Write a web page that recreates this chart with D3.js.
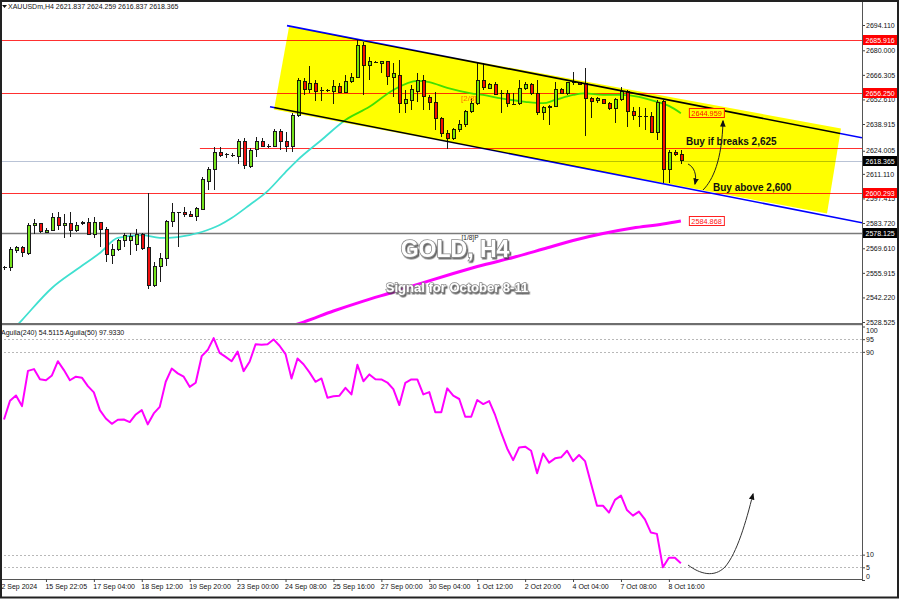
<!DOCTYPE html>
<html><head><meta charset="utf-8">
<script src="https://cdn.jsdelivr.net/npm/d3@7"></script>
<style>body{margin:0;background:#fff}svg{display:block}text{font-family:"Liberation Sans",Arial,sans-serif}</style>
</head><body><svg id="c" width="900" height="600"></svg>
<script>
// ---------- DATA ----------
const opens=[2558.6,2558.8,2568.3,2570.2,2566.8,2582.1,2583.2,2578.7,2579.8,2586.9,2582.4,2583.5,2579.8,2583.2,2583.9,2577.4,2584.1,2580.2,2565.5,2568.7,2574.2,2574.2,2571.8,2577.4,2570.2,2548.8,2559.4,2564.0,2584.5,2589.1,2589.5,2588.7,2587.3,2591.5,2607.1,2613.6,2622.9,2621.4,2621.6,2620.7,2629.1,2615.1,2624.8,2629.4,2626.6,2626.3,2634.6,2629.1,2626.3,2643.4,2662.5,2657.9,2661.6,2657.3,2657.9,2656.9,2659.7,2656.6,2662.5,2664.9,2682.9,2671.8,2673.1,2672.4,2673.7,2664.9,2665.9,2650.1,2651.9,2657.0,2663.4,2653.6,2650.8,2642.1,2633.7,2630.9,2635.9,2638.4,2645.8,2650.4,2663.4,2658.8,2660.7,2656.0,2656.0,2650.1,2650.1,2658.8,2660.7,2656.0,2645.2,2648.2,2648.9,2658.2,2656.0,2661.9,2661.9,2661.6,2653.2,2651.9,2652.6,2650.4,2647.6,2652.3,2656.9,2645.8,2643.4,2643.4,2643.0,2634.1,2651.3,2613.3,2622.9,2621.84];
const highs=[2559.7,2570.5,2570.9,2570.9,2583.5,2585.8,2583.5,2580.7,2589.5,2590.0,2588.7,2590.0,2584.5,2584.8,2586.3,2586.9,2584.5,2581.3,2572.0,2574.6,2578.0,2578.0,2580.2,2578.0,2600.6,2562.2,2566.8,2585.4,2595.1,2590.0,2592.8,2590.6,2592.8,2609.6,2615.1,2626.3,2626.3,2622.6,2622.6,2630.5,2631.0,2625.3,2631.5,2631.0,2628.0,2635.9,2635.9,2634.6,2644.8,2664.4,2664.4,2671.2,2663.4,2659.7,2658.2,2663.4,2661.6,2666.2,2667.2,2685.7,2684.8,2676.4,2674.2,2674.2,2674.2,2672.7,2674.6,2657.9,2660.7,2667.2,2666.2,2655.1,2656.9,2643.0,2635.6,2636.5,2641.1,2646.7,2653.2,2672.7,2672.7,2661.6,2662.5,2657.9,2657.9,2656.0,2663.4,2662.5,2661.6,2663.4,2648.9,2649.5,2662.5,2658.8,2662.5,2668.1,2662.5,2669.9,2654.2,2654.2,2652.7,2651.4,2653.2,2659.7,2657.9,2648.6,2648.6,2647.7,2645.8,2652.3,2652.3,2624.4,2624.4,2624.26];
const lows=[2557.5,2557.0,2566.8,2564.9,2565.9,2577.6,2578.0,2578.0,2579.4,2579.8,2575.2,2576.1,2578.9,2582.4,2577.0,2575.2,2570.5,2562.2,2560.7,2568.1,2570.5,2565.9,2568.3,2568.7,2546.9,2548.2,2551.0,2559.7,2581.3,2570.2,2586.9,2586.9,2585.0,2591.0,2602.1,2602.1,2620.7,2619.8,2620.3,2616.6,2613.6,2614.2,2620.7,2625.9,2625.5,2625.9,2624.4,2623.5,2623.5,2642.6,2655.1,2656.0,2651.9,2651.9,2656.9,2650.1,2656.0,2656.0,2661.6,2664.5,2655.1,2663.4,2672.7,2667.2,2660.7,2654.2,2644.9,2644.9,2646.7,2651.4,2646.7,2646.7,2635.6,2631.9,2624.8,2630.0,2634.6,2637.4,2645.2,2649.5,2657.9,2658.2,2655.1,2644.9,2648.2,2649.5,2649.5,2657.9,2655.1,2643.9,2641.1,2638.4,2648.6,2655.6,2655.1,2660.7,2660.7,2632.2,2642.1,2650.8,2650.1,2646.7,2639.6,2651.9,2637.0,2641.1,2637.4,2635.6,2633.7,2630.0,2605.9,2605.9,2620.9,2616.84];
const closes=[2559.0,2568.7,2570.2,2567.4,2582.6,2583.2,2578.9,2579.8,2586.9,2582.6,2583.5,2579.8,2582.6,2583.9,2577.4,2584.1,2580.2,2565.9,2568.7,2574.2,2576.5,2576.1,2577.4,2569.6,2548.8,2559.7,2564.0,2584.8,2589.5,2589.7,2588.2,2587.3,2591.7,2607.7,2613.6,2622.9,2621.1,2622.0,2621.1,2629.1,2615.5,2624.4,2629.1,2626.3,2626.8,2634.6,2629.1,2626.3,2643.9,2663.1,2658.2,2661.6,2656.9,2657.9,2658.0,2659.7,2656.4,2662.5,2664.7,2682.9,2671.8,2673.7,2673.7,2673.7,2665.3,2666.8,2650.1,2652.3,2658.2,2663.4,2654.2,2650.8,2642.1,2633.7,2630.9,2635.9,2638.4,2645.8,2650.1,2663.4,2659.4,2661.0,2655.4,2656.2,2650.1,2650.3,2658.8,2660.7,2656.0,2645.2,2648.2,2648.9,2658.2,2656.0,2661.9,2662.1,2661.2,2653.2,2651.7,2653.2,2650.4,2647.6,2652.3,2656.9,2645.8,2643.9,2643.3,2643.5,2634.1,2650.8,2613.3,2622.9,2621.8,2618.37];
const aguila=[63.3,70.7,72.8,68.6,82.5,83.2,79.2,78.8,80.7,86.3,82.8,78.8,80.2,79.8,76.5,74.0,67.0,63.7,61.6,63.2,63.3,62.3,65.3,67.0,61.4,65.7,68.3,78.2,83.4,81.5,80.2,76.2,77.8,88.3,90.7,95.4,89.6,88.0,86.3,90.1,82.4,86.1,93.0,92.8,93.0,94.9,92.4,89.1,79.5,87.4,85.1,81.9,78.2,79.5,71.9,72.5,72.7,75.8,73.2,84.9,78.4,81.1,79.2,79.1,77.9,75.3,69.0,77.8,79.1,79.1,73.2,74.1,66.2,66.2,75.6,72.7,71.4,64.4,64.4,71.0,69.4,70.6,65.0,58.1,51.9,47.3,52.3,52.6,51.0,42.1,49.9,46.3,48.0,48.4,51.0,46.9,49.3,46.9,38.1,29.3,29.3,26.6,31.6,33.3,27.6,25.4,27.0,23.9,18.7,18.2,5.0,8.8,8.8,6.6];
const maIndex=[2,3,8,12,16,19,23,26,29,33,36,38,41,44,47,49,53,57,61,65,69,71,74,78,80,83,87,90,92,95,97,100,103,106,109,111,113];
const maValue=[2526.0,2529.6,2547.5,2557.5,2567.0,2575.4,2577.0,2575.4,2575.9,2578.7,2582.6,2586.5,2593.8,2601.5,2612.1,2618.8,2630.0,2641.1,2648.5,2657.9,2663.0,2662.3,2659.0,2656.0,2655.1,2653.2,2651.3,2650.5,2652.3,2655.1,2656.0,2655.1,2655.1,2654.1,2651.3,2649.0,2644.959];
const ma200Index=[48,50,55,60,65,70,75,80,85,90,95,100,105,110,113];
const ma200Value=[2526.3,2528.5,2534.65,2540.2,2545.25,2550.5,2555.55,2560.3,2564.5,2569.2,2573.95,2577.85,2580.9,2583.15,2584.868];
const priceTicks=[2694.110,2680.000,2666.305,2652.610,2638.915,2624.005,2611.110,2597.415,2583.720,2569.610,2555.915,2542.220,2528.525];
const aguilaTicks=[100,95,90,10,5,0];
const aguilaLevels=[95,90,10,5];
const timeIndex=[-1,7,15,23,31,39,47,55,63,71,79,87,95,103,111];
const timeLabels=["12 Sep 2024","15 Sep 22:05","17 Sep 04:00","18 Sep 12:00","19 Sep 20:00","23 Sep 00:00","24 Sep 08:00","25 Sep 16:00","27 Sep 00:00","30 Sep 04:00","1 Oct 12:00","2 Oct 20:00","4 Oct 04:00","7 Oct 08:00","8 Oct 16:00"];
const levelValue=[2685.916,2656.250,2625.6,2618.365,2600.293,2578.125];
const levelFrom=[-0.67,-0.67,32.7,-0.67,-0.67,-0.67];
const levelKind=["res","res","res","bid","res","piv"];
const levelLabel=["2685.916","2656.250","","2618.365","2600.293","2578.125"];
const channelUpper=[[47.25,2693.78],[143.24,2631.28]];
const channelLower=[[44.41,2648.56],[143.24,2583.88]];
const boxCorners=[[47.58,2693.0],[139.73,2636.4],[137.4,2589.01],[45.08,2647.0]];

// ---------- LAYOUT ----------
const W=900,H=600,PR=862,MB=323,IT=326,IB=579;
const x=d3.scaleLinear().domain([-0.67,143.24]).range([0,PR]);
const y=d3.scaleLinear().domain([2528.525,2694.11]).range([322,25]);
const yi=d3.scaleLinear().domain([0,100]).range([580,326.5]);
const svg=d3.select('#c');
svg.append('rect').attr('width',W).attr('height',H).attr('fill','#fff');
const defs=svg.append('defs');
defs.append('clipPath').attr('id','cm').append('rect').attr('x',0).attr('y',0).attr('width',PR).attr('height',MB);
defs.append('clipPath').attr('id','ci').append('rect').attr('x',0).attr('y',IT).attr('width',PR).attr('height',IB-IT);
defs.append('marker').attr('id','ah').attr('viewBox','0 0 10 10').attr('refX',8).attr('refY',5)
  .attr('markerWidth',7).attr('markerHeight',7).attr('orient','auto')
  .append('path').attr('d','M0,1 L10,5 L0,9 Z').attr('fill','#111');
const f=defs.append('filter').attr('id','sh').attr('x','-10%').attr('y','-30%').attr('width','130%').attr('height','170%');
f.append('feDropShadow').attr('dx',1.3).attr('dy',1.6).attr('stdDeviation',0.7).attr('flood-color','#333').attr('flood-opacity',0.75);

const levelColor={res:'#ff3030',bid:'#b9c3d6',piv:'#7a7a7a'};

// ---------- MAIN PANEL ----------
const gm=svg.append('g').attr('clip-path','url(#cm)');
levelValue.forEach((v,k)=>{
  const yy=Math.round(y(v))+0.5;
  gm.append('line').attr('x1',x(levelFrom[k])).attr('x2',PR).attr('y1',yy).attr('y2',yy)
    .attr('stroke',levelColor[levelKind[k]]).attr('stroke-width',levelKind[k]==='piv'?1.3:1);
});
const lineGen=d3.line().x(d=>x(d[0])).y(d=>y(d[1])).curve(d3.curveMonotoneX);
gm.append('path').attr('d',lineGen(maIndex.map((d,i)=>[d,maValue[i]])))
  .attr('fill','none').attr('stroke','#40e0d0').attr('stroke-width',1.8);
gm.append('path').attr('d',lineGen(ma200Index.map((d,i)=>[d,ma200Value[i]])))
  .attr('fill','none').attr('stroke','#ff00ff').attr('stroke-width',3);

const gc=gm.append('g').attr('shape-rendering','crispEdges');
opens.forEach((o,i)=>{
  const c=closes[i],r=Math.round(x(i));
  gc.append('line').attr('x1',r+0.5).attr('x2',r+0.5).attr('y1',y(highs[i])).attr('y2',y(lows[i]))
    .attr('stroke','#1a1a1a').attr('stroke-width',1);
  const top=y(Math.max(o,c)),bot=y(Math.min(o,c));
  if(bot-top<1.2){
    gc.append('line').attr('x1',r-1.5).attr('x2',r+2.5).attr('y1',Math.round(top)+0.5).attr('y2',Math.round(top)+0.5)
      .attr('stroke','#1a1a1a');
  } else {
    gc.append('rect').attr('x',r-1).attr('y',top).attr('width',3).attr('height',bot-top)
      .attr('fill',c>=o?'#74e21c':'#f01010').attr('stroke','#1a1a1a').attr('stroke-width',1);
  }
});
const cl=d3.line().x(d=>x(d[0])).y(d=>y(d[1]));
gm.append('path').attr('d',cl(channelUpper)).attr('stroke','#0000ff').attr('stroke-width',1.6).attr('fill','none');
gm.append('path').attr('d',cl(channelLower)).attr('stroke','#0000ff').attr('stroke-width',1.6).attr('fill','none');

function valueTag(g,idx,val,txt){
  const xx=x(idx)+8.5,yy=Math.round(y(val));
  g.append('rect').attr('x',xx).attr('y',yy-4.5).attr('width',35).attr('height',9).attr('fill','#fff').attr('stroke','#ff2020').attr('stroke-width',1);
  g.append('text').attr('x',xx+2).attr('y',yy+2.6).attr('font-size',7.3).attr('fill','#ff1010').text(txt);
}
valueTag(gm,maIndex[maIndex.length-1],maValue[maValue.length-1],'2644.959');
gm.append('text').attr('x',461).attr('y',101).attr('font-size',8).attr('fill','#ff6a00').text('[2/8]');

gm.append('path').attr('d',d3.line()(boxCorners.map(d=>[x(d[0]),y(d[1])]))+'Z')
  .attr('fill','#ffff00').style('mix-blend-mode','multiply');

valueTag(svg,ma200Index[ma200Index.length-1],ma200Value[ma200Value.length-1],'2584.868');

// annotations
svg.append('text').attr('x',686).attr('y',145).attr('font-size',10).attr('font-weight','bold').attr('fill','#111').text('Buy if breaks 2,625');
svg.append('text').attr('x',713).attr('y',190.5).attr('font-size',10).attr('font-weight','bold').attr('fill','#111').text('Buy above 2,600');
svg.append('path').attr('d','M688,164 C694,167 697,174 695,184').attr('fill','none').attr('stroke','#222').attr('stroke-width',1).attr('marker-end','url(#ah)');
svg.append('path').attr('d','M703,190 C713,180 722,160 723,121').attr('fill','none').attr('stroke','#222').attr('stroke-width',1).attr('marker-end','url(#ah)');
svg.append('text').attr('x',470).attr('y',240).attr('font-size',6.5).attr('fill','#222').attr('text-anchor','middle').text('[1/8]P');
svg.append('text').attr('x',455).attr('y',257).attr('text-anchor','middle').attr('font-size',23).attr('font-weight','bold')
  .attr('fill','#fff').attr('stroke','#8a8a8a').attr('stroke-width',1.6).attr('paint-order','stroke').attr('filter','url(#sh)').text('GOLD, H4');
svg.append('text').attr('x',457).attr('y',292).attr('text-anchor','middle').attr('font-size',13).attr('font-weight','bold')
  .attr('fill','#fff').attr('stroke','#8a8a8a').attr('stroke-width',1.3).attr('paint-order','stroke').attr('filter','url(#sh)').text('Signal for October 8-11');

// header
svg.append('path').attr('d','M2,5 L7,5 L4.5,8 Z').attr('fill','#111');
svg.append('text').attr('x',8).attr('y',9).attr('font-size',7).attr('fill','#111')
  .text('XAUUSDm,H4  2621.837 2624.259 2616.837 2618.365');

// price axis
const ay=svg.append('g').attr('transform',`translate(${PR},0)`)
  .call(d3.axisRight(y).tickValues(priceTicks).tickSize(3).tickPadding(1).tickFormat(d3.format('.3f')));
ay.select('.domain').remove();
ay.selectAll('text').attr('font-size',7).attr('fill','#111').attr('font-family','"Liberation Sans",Arial,sans-serif');
ay.selectAll('line').attr('stroke','#444');
levelValue.forEach((v,k)=>{
  if(!levelLabel[k]) return;
  const yy=Math.round(y(v));
  svg.append('rect').attr('x',PR+1).attr('y',yy-5).attr('width',35).attr('height',10)
    .attr('fill',levelKind[k]==='res'?'#ff0000':'#000');
  svg.append('text').attr('x',PR+3.5).attr('y',yy+2.6).attr('font-size',7).attr('fill','#fff').text(levelLabel[k]);
});

// ---------- INDICATOR PANEL ----------
svg.append('rect').attr('x',0).attr('y',MB).attr('width',PR).attr('height',2.2).attr('fill','#6e6e6e');
const gi=svg.append('g').attr('clip-path','url(#ci)');
aguilaLevels.forEach(v=>{
  const yy=Math.round(yi(v))+0.5;
  gi.append('line').attr('x1',0).attr('x2',PR).attr('y1',yy).attr('y2',yy)
    .attr('stroke','#b8b8b8').attr('stroke-dasharray','2,2');
});
gi.append('path').attr('d',d3.line().x((d,i)=>x(i)).y(d=>yi(d))(aguila))
  .attr('fill','none').attr('stroke','#ff00ff').attr('stroke-width',2).attr('stroke-linejoin','round');
svg.append('text').attr('x',1).attr('y',335).attr('font-size',7).attr('fill','#111')
  .text('Aguila(240) 54.5115   Aguila(50) 97.9330');
svg.append('path').attr('d','M688,565 C700,574 714,578 725,567 C737,553 746,522 753,494')
  .attr('fill','none').attr('stroke','#333').attr('stroke-width',1).attr('marker-end','url(#ah)');
const ai=svg.append('g').attr('transform',`translate(${PR},0)`)
  .call(d3.axisRight(yi).tickValues(aguilaTicks).tickSize(3).tickPadding(1).tickFormat(d3.format('d')));
ai.select('.domain').remove();
ai.selectAll('line').attr('stroke','#444');
ai.selectAll('text').attr('font-size',7).attr('fill','#111').attr('font-family','"Liberation Sans",Arial,sans-serif')
  .attr('dy',d=>d===100?'0.9em':(d===0?'-0.25em':'0.32em'));

// ---------- TIME AXIS ----------
const ax=svg.append('g').attr('transform',`translate(0,${IB})`)
  .call(d3.axisBottom(x).tickValues(timeIndex).tickSize(3).tickFormat((d,i)=>timeLabels[i]));
ax.select('.domain').attr('d',`M0,0.5H${PR}`).attr('stroke','#555');
ax.selectAll('line').attr('stroke','#444');
ax.selectAll('text').attr('text-anchor','start').attr('x',-1).attr('y',10).attr('dy',0)
  .attr('font-size',7).attr('fill','#111').attr('font-family','"Liberation Sans",Arial,sans-serif');

// frame + vertical axis line
svg.append('line').attr('x1',PR+0.5).attr('x2',PR+0.5).attr('y1',0).attr('y2',IB+1).attr('stroke','#555');
svg.append('rect').attr('x',1).attr('y',1).attr('width',897).attr('height',596.5).attr('fill','none').attr('stroke','#222').attr('stroke-width',2);
</script></body></html>
